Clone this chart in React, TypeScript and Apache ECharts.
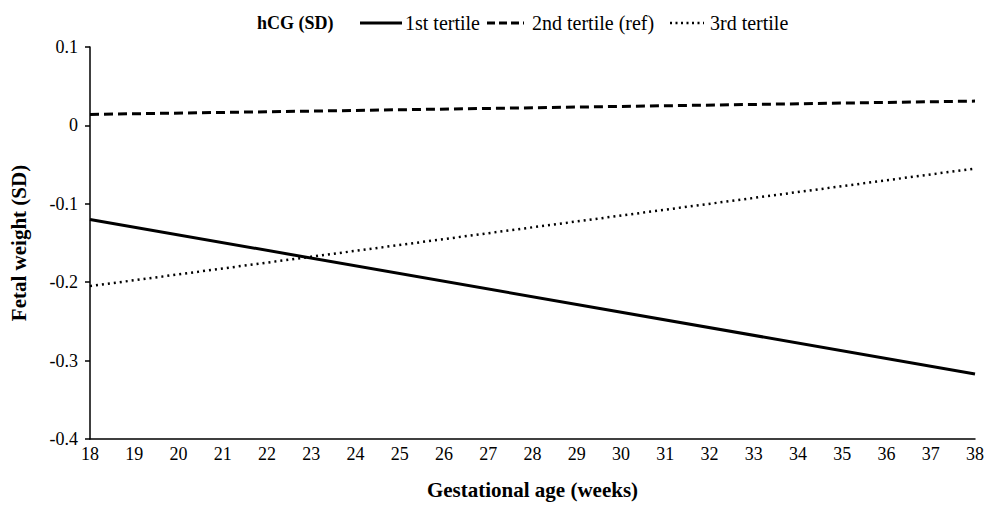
import React, { useEffect, useRef } from "react";
import * as echarts from "echarts";

const weeks = [18, 38];
const tertile1 = [-0.12, -0.317];
const tertile2 = [0.014, 0.031];
const tertile3 = [-0.205, -0.055];
const seriesNames = ["1st tertile", "2nd tertile (ref)", "3rd tertile"];
const legendTitle = "hCG (SD)";

const FONT = "Liberation Serif";

export default function App() {
  const ref = useRef<HTMLDivElement>(null);
  useEffect(() => {
    if (!ref.current) return;
    const chart = echarts.init(ref.current, undefined, { renderer: "svg" });
    const mk = (vals: number[]) => weeks.map((w, i) => [w, vals[i]]);
    const legendY = 23;
    const legendItems = [
      { x1: 360, x2: 402, dash: null as number[] | null, w: 3, tx: 405 },
      { x1: 487, x2: 524, dash: [8, 4], w: 3, tx: 532 },
      { x1: 670, x2: 704, dash: [2, 3.5], w: 2.5, tx: 710 },
    ];
    const graphic: any[] = [
      {
        type: "text",
        x: 257,
        y: legendY,
        style: {
          text: legendTitle,
          fontFamily: FONT,
          fontSize: 18,
          fontWeight: "bold",
          fill: "#000",
          verticalAlign: "middle",
        },
      },
    ];
    legendItems.forEach((it, i) => {
      graphic.push({
        type: "line",
        shape: { x1: it.x1, y1: legendY, x2: it.x2, y2: legendY },
        style: { stroke: "#000", lineWidth: it.w, lineDash: it.dash || undefined },
      });
      graphic.push({
        type: "text",
        x: it.tx,
        y: legendY,
        style: {
          text: seriesNames[i],
          fontFamily: FONT,
          fontSize: 20,
          fill: "#000",
          verticalAlign: "middle",
        },
      });
    });
    chart.setOption({
      animation: false,
      textStyle: { fontFamily: FONT },
      grid: { left: 87, right: 10, top: 47, bottom: 53 },
      graphic,
      xAxis: {
        type: "value",
        min: 18,
        max: 38,
        interval: 1,
        name: "Gestational age (weeks)",
        nameLocation: "middle",
        nameGap: 40,
        nameTextStyle: { fontFamily: FONT, fontSize: 21, fontWeight: "bold", color: "#000" },
        axisLine: { onZero: false, lineStyle: { color: "#000", width: 1.5 } },
        axisTick: { show: false },
        axisLabel: { color: "#000", fontFamily: FONT, fontSize: 18, margin: 6 },
        splitLine: { show: false },
      },
      yAxis: {
        type: "value",
        min: -0.4,
        max: 0.1,
        interval: 0.1,
        name: "Fetal weight (SD)",
        nameLocation: "middle",
        nameGap: 61,
        nameTextStyle: { fontFamily: FONT, fontSize: 21, fontWeight: "bold", color: "#000" },
        axisLine: { show: true, onZero: false, lineStyle: { color: "#000", width: 1.5 } },
        axisTick: { show: true, length: 5, lineStyle: { color: "#000", width: 1.5 } },
        axisLabel: {
          color: "#000",
          fontFamily: FONT,
          fontSize: 18,
          margin: 12,
          formatter: (v: number) => {
            const r = Math.round(v * 10) / 10;
            return r === 0 ? "0" : String(r);
          },
        },
        splitLine: { show: false },
      },
      series: [
        {
          name: seriesNames[0],
          type: "line",
          symbol: "none",
          data: mk(tertile1),
          lineStyle: { color: "#000", width: 3, type: "solid" },
        },
        {
          name: seriesNames[1],
          type: "line",
          symbol: "none",
          data: mk(tertile2),
          lineStyle: { color: "#000", width: 3, type: [9, 5] },
        },
        {
          name: seriesNames[2],
          type: "line",
          symbol: "none",
          data: mk(tertile3),
          lineStyle: { color: "#000", width: 2.5, type: [2, 4] },
        },
      ],
    });
    return () => chart.dispose();
  }, []);
  return (
    <div
      ref={ref}
      style={{ position: "absolute", left: 0, top: 0, width: 987, height: 505 }}
    />
  );
}
